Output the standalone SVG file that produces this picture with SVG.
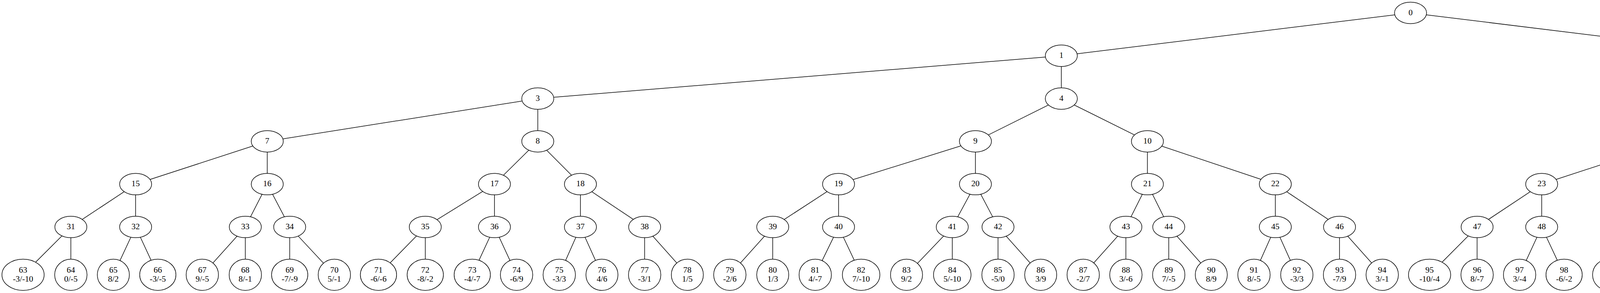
<svg xmlns="http://www.w3.org/2000/svg" width="7200" height="749" viewBox="0 0 7200 749">
<style>
.e line{stroke:#000;stroke-width:1.5}
.n ellipse{fill:#fff;stroke:#000;stroke-width:1.5}
.n text{font-family:"Liberation Serif","Times New Roman",serif;font-size:21.3px;text-anchor:middle;fill:#000}
</style>
<rect width="7200" height="749" fill="#fff"/>
<g id="edges" class="e">
<line x1="3611" y1="33" x2="2717" y2="142.5"/><line x1="3611" y1="33" x2="4505" y2="142.5"/>
<line x1="2717" y1="142.5" x2="1376.7" y2="252"/><line x1="2717" y1="142.5" x2="2717" y2="252"/>
<line x1="4505" y1="142.5" x2="4505" y2="252"/><line x1="4505" y1="142.5" x2="5857.8" y2="252"/>
<line x1="1376.7" y1="252" x2="684.2" y2="361.3"/><line x1="1376.7" y1="252" x2="1376.7" y2="361.3"/>
<line x1="2717" y1="252" x2="2497.1" y2="361.3"/><line x1="2717" y1="252" x2="2937.4" y2="361.3"/>
<line x1="4505" y1="252" x2="4281.9" y2="361.3"/><line x1="4505" y1="252" x2="4728.2" y2="361.3"/>
<line x1="5857.8" y1="252" x2="5857.8" y2="361.3"/><line x1="5857.8" y1="252" x2="6516.7" y2="361.3"/>
<line x1="684.2" y1="361.3" x2="347.2" y2="470.7"/><line x1="684.2" y1="361.3" x2="684.2" y2="470.7"/>
<line x1="1376.7" y1="361.3" x2="1265.8" y2="470.7"/><line x1="1376.7" y1="361.3" x2="1485.9" y2="470.7"/>
<line x1="2497.1" y1="361.3" x2="2146.7" y2="470.7"/><line x1="2497.1" y1="361.3" x2="2497.1" y2="470.7"/>
<line x1="2937.4" y1="361.3" x2="2937.4" y2="470.7"/><line x1="2937.4" y1="361.3" x2="3264.8" y2="470.7"/>
<line x1="4281.9" y1="361.3" x2="3946.7" y2="470.7"/><line x1="4281.9" y1="361.3" x2="4281.9" y2="470.7"/>
<line x1="4728.2" y1="361.3" x2="4728.2" y2="470.7"/><line x1="4728.2" y1="361.3" x2="5071.2" y2="470.7"/>
<line x1="5857.8" y1="361.3" x2="5743.5" y2="470.7"/><line x1="5857.8" y1="361.3" x2="5970.3" y2="470.7"/>
<line x1="6516.7" y1="361.3" x2="6516.7" y2="470.7"/><line x1="6516.7" y1="361.3" x2="6855.2" y2="470.7"/>
<line x1="347.2" y1="470.7" x2="181.4" y2="580.2"/><line x1="347.2" y1="470.7" x2="347.2" y2="580.2"/>
<line x1="684.2" y1="470.7" x2="628" y2="580.2"/><line x1="684.2" y1="470.7" x2="741.6" y2="580.2"/>
<line x1="1265.8" y1="470.7" x2="1088.7" y2="580.2"/><line x1="1265.8" y1="470.7" x2="1265.8" y2="580.2"/>
<line x1="1485.9" y1="470.7" x2="1485.9" y2="580.2"/><line x1="1485.9" y1="470.7" x2="1650.3" y2="580.2"/>
<line x1="2146.7" y1="470.7" x2="1978.2" y2="580.2"/><line x1="2146.7" y1="470.7" x2="2146.7" y2="580.2"/>
<line x1="2497.1" y1="470.7" x2="2437.8" y2="580.2"/><line x1="2497.1" y1="470.7" x2="2554.9" y2="580.2"/>
<line x1="2937.4" y1="470.7" x2="2882.3" y2="580.2"/><line x1="2937.4" y1="470.7" x2="2992" y2="580.2"/>
<line x1="3264.8" y1="470.7" x2="3264.8" y2="580.2"/><line x1="3264.8" y1="470.7" x2="3429.2" y2="580.2"/>
<line x1="3946.7" y1="470.7" x2="3781.4" y2="580.2"/><line x1="3946.7" y1="470.7" x2="3946.7" y2="580.2"/>
<line x1="4281.9" y1="470.7" x2="4227.3" y2="580.2"/><line x1="4281.9" y1="470.7" x2="4337" y2="580.2"/>
<line x1="4728.2" y1="470.7" x2="4673.6" y2="580.2"/><line x1="4728.2" y1="470.7" x2="4782.9" y2="580.2"/>
<line x1="5071.2" y1="470.7" x2="5071.2" y2="580.2"/><line x1="5071.2" y1="470.7" x2="5250.3" y2="580.2"/>
<line x1="5743.5" y1="470.7" x2="5578.2" y2="580.2"/><line x1="5743.5" y1="470.7" x2="5743.5" y2="580.2"/>
<line x1="5970.3" y1="470.7" x2="5970.3" y2="580.2"/><line x1="5970.3" y1="470.7" x2="6134.3" y2="580.2"/>
<line x1="6516.7" y1="470.7" x2="6461.7" y2="580.2"/><line x1="6516.7" y1="470.7" x2="6571.4" y2="580.2"/>
<line x1="6855.2" y1="470.7" x2="6855.2" y2="580.2"/><line x1="6855.2" y1="470.7" x2="7036.1" y2="580.2"/>
<line x1="181.4" y1="580.2" x2="59" y2="702.4"/><line x1="181.4" y1="580.2" x2="181.4" y2="702.4"/>
<line x1="347.2" y1="580.2" x2="290.2" y2="702.4"/><line x1="347.2" y1="580.2" x2="404" y2="702.4"/>
<line x1="628" y1="580.2" x2="517.9" y2="702.4"/><line x1="628" y1="580.2" x2="628" y2="702.4"/>
<line x1="741.6" y1="580.2" x2="741.6" y2="702.4"/><line x1="741.6" y1="580.2" x2="855.9" y2="702.4"/>
<line x1="1088.7" y1="580.2" x2="968.9" y2="702.4"/><line x1="1088.7" y1="580.2" x2="1088.7" y2="702.4"/>
<line x1="1265.8" y1="580.2" x2="1209" y2="702.4"/><line x1="1265.8" y1="580.2" x2="1322.4" y2="702.4"/>
<line x1="1485.9" y1="580.2" x2="1431.7" y2="702.4"/><line x1="1485.9" y1="580.2" x2="1541" y2="702.4"/>
<line x1="1650.3" y1="580.2" x2="1650.3" y2="702.4"/><line x1="1650.3" y1="580.2" x2="1759.6" y2="702.4"/>
<line x1="1978.2" y1="580.2" x2="1868.4" y2="702.4"/><line x1="1978.2" y1="580.2" x2="1978.2" y2="702.4"/>
<line x1="2146.7" y1="580.2" x2="2087" y2="702.4"/><line x1="2146.7" y1="580.2" x2="2204.5" y2="702.4"/>
<line x1="2437.8" y1="580.2" x2="2320.7" y2="702.4"/><line x1="2437.8" y1="580.2" x2="2437.8" y2="702.4"/>
<line x1="2554.9" y1="580.2" x2="2554.9" y2="702.4"/><line x1="2554.9" y1="580.2" x2="2664.2" y2="702.4"/>
<line x1="2882.3" y1="580.2" x2="2773" y2="702.4"/><line x1="2882.3" y1="580.2" x2="2882.3" y2="702.4"/>
<line x1="2992" y1="580.2" x2="2992" y2="702.4"/><line x1="2992" y1="580.2" x2="3100.9" y2="702.4"/>
<line x1="3264.8" y1="580.2" x2="3210.2" y2="702.4"/><line x1="3264.8" y1="580.2" x2="3319.9" y2="702.4"/>
<line x1="3429.2" y1="580.2" x2="3429.2" y2="702.4"/><line x1="3429.2" y1="580.2" x2="3538.5" y2="702.4"/>
<line x1="3781.4" y1="580.2" x2="3659.7" y2="702.4"/><line x1="3781.4" y1="580.2" x2="3781.4" y2="702.4"/>
<line x1="3946.7" y1="580.2" x2="3890.2" y2="702.4"/><line x1="3946.7" y1="580.2" x2="4004.1" y2="702.4"/>
<line x1="4227.3" y1="580.2" x2="4118" y2="702.4"/><line x1="4227.3" y1="580.2" x2="4227.3" y2="702.4"/>
<line x1="4337" y1="580.2" x2="4337" y2="702.4"/><line x1="4337" y1="580.2" x2="4450.9" y2="702.4"/>
<line x1="4673.6" y1="580.2" x2="4564.3" y2="702.4"/><line x1="4673.6" y1="580.2" x2="4673.6" y2="702.4"/>
<line x1="4782.9" y1="580.2" x2="4782.9" y2="702.4"/><line x1="4782.9" y1="580.2" x2="4892.2" y2="702.4"/>
<line x1="5071.2" y1="580.2" x2="5008.8" y2="702.4"/><line x1="5071.2" y1="580.2" x2="5133.7" y2="702.4"/>
<line x1="5250.3" y1="580.2" x2="5250.3" y2="702.4"/><line x1="5250.3" y1="580.2" x2="5359.6" y2="702.4"/>
<line x1="5578.2" y1="580.2" x2="5468.9" y2="702.4"/><line x1="5578.2" y1="580.2" x2="5578.2" y2="702.4"/>
<line x1="5743.5" y1="580.2" x2="5687.5" y2="702.4"/><line x1="5743.5" y1="580.2" x2="5801.3" y2="702.4"/>
<line x1="5970.3" y1="580.2" x2="5915.2" y2="702.4"/><line x1="5970.3" y1="580.2" x2="6025" y2="702.4"/>
<line x1="6134.3" y1="580.2" x2="6134.3" y2="702.4"/><line x1="6134.3" y1="580.2" x2="6243.5" y2="702.4"/>
<line x1="6461.7" y1="580.2" x2="6352.4" y2="702.4"/><line x1="6461.7" y1="580.2" x2="6461.7" y2="702.4"/>
<line x1="6571.4" y1="580.2" x2="6571.4" y2="702.4"/><line x1="6571.4" y1="580.2" x2="6680.7" y2="702.4"/>
<line x1="6855.2" y1="580.2" x2="6794.6" y2="702.4"/><line x1="6855.2" y1="580.2" x2="6914.4" y2="702.4"/>
<line x1="7036.1" y1="580.2" x2="7036.1" y2="702.4"/><line x1="7036.1" y1="580.2" x2="7152.7" y2="702.4"/>
</g>
<g id="nodes" class="n">
<g id="n0"><ellipse cx="3611" cy="33" rx="41" ry="27.4"/><text x="3611" y="38.6">0</text></g>
<g id="n1"><ellipse cx="2717" cy="142.5" rx="41" ry="27.4"/><text x="2717" y="148.1">1</text></g>
<g id="n2"><ellipse cx="4505" cy="142.5" rx="41" ry="27.4"/><text x="4505" y="148.1">2</text></g>
<g id="n3"><ellipse cx="1376.7" cy="252" rx="41" ry="27.4"/><text x="1376.7" y="257.6">3</text></g>
<g id="n4"><ellipse cx="2717" cy="252" rx="41" ry="27.4"/><text x="2717" y="257.6">4</text></g>
<g id="n5"><ellipse cx="4505" cy="252" rx="41" ry="27.4"/><text x="4505" y="257.6">5</text></g>
<g id="n6"><ellipse cx="5857.8" cy="252" rx="41" ry="27.4"/><text x="5857.8" y="257.6">6</text></g>
<g id="n7"><ellipse cx="684.2" cy="361.3" rx="41" ry="27.4"/><text x="684.2" y="366.9">7</text></g>
<g id="n8"><ellipse cx="1376.7" cy="361.3" rx="41" ry="27.4"/><text x="1376.7" y="366.9">8</text></g>
<g id="n9"><ellipse cx="2497.1" cy="361.3" rx="41" ry="27.4"/><text x="2497.1" y="366.9">9</text></g>
<g id="n10"><ellipse cx="2937.4" cy="361.3" rx="41" ry="27.4"/><text x="2937.4" y="366.9">10</text></g>
<g id="n11"><ellipse cx="4281.9" cy="361.3" rx="41" ry="27.4"/><text x="4281.9" y="366.9">11</text></g>
<g id="n12"><ellipse cx="4728.2" cy="361.3" rx="41" ry="27.4"/><text x="4728.2" y="366.9">12</text></g>
<g id="n13"><ellipse cx="5857.8" cy="361.3" rx="41" ry="27.4"/><text x="5857.8" y="366.9">13</text></g>
<g id="n14"><ellipse cx="6516.7" cy="361.3" rx="41" ry="27.4"/><text x="6516.7" y="366.9">14</text></g>
<g id="n15"><ellipse cx="347.2" cy="470.7" rx="41" ry="27.4"/><text x="347.2" y="476.3">15</text></g>
<g id="n16"><ellipse cx="684.2" cy="470.7" rx="41" ry="27.4"/><text x="684.2" y="476.3">16</text></g>
<g id="n17"><ellipse cx="1265.8" cy="470.7" rx="41" ry="27.4"/><text x="1265.8" y="476.3">17</text></g>
<g id="n18"><ellipse cx="1485.9" cy="470.7" rx="41" ry="27.4"/><text x="1485.9" y="476.3">18</text></g>
<g id="n19"><ellipse cx="2146.7" cy="470.7" rx="41" ry="27.4"/><text x="2146.7" y="476.3">19</text></g>
<g id="n20"><ellipse cx="2497.1" cy="470.7" rx="41" ry="27.4"/><text x="2497.1" y="476.3">20</text></g>
<g id="n21"><ellipse cx="2937.4" cy="470.7" rx="41" ry="27.4"/><text x="2937.4" y="476.3">21</text></g>
<g id="n22"><ellipse cx="3264.8" cy="470.7" rx="41" ry="27.4"/><text x="3264.8" y="476.3">22</text></g>
<g id="n23"><ellipse cx="3946.7" cy="470.7" rx="41" ry="27.4"/><text x="3946.7" y="476.3">23</text></g>
<g id="n24"><ellipse cx="4281.9" cy="470.7" rx="41" ry="27.4"/><text x="4281.9" y="476.3">24</text></g>
<g id="n25"><ellipse cx="4728.2" cy="470.7" rx="41" ry="27.4"/><text x="4728.2" y="476.3">25</text></g>
<g id="n26"><ellipse cx="5071.2" cy="470.7" rx="41" ry="27.4"/><text x="5071.2" y="476.3">26</text></g>
<g id="n27"><ellipse cx="5743.5" cy="470.7" rx="41" ry="27.4"/><text x="5743.5" y="476.3">27</text></g>
<g id="n28"><ellipse cx="5970.3" cy="470.7" rx="41" ry="27.4"/><text x="5970.3" y="476.3">28</text></g>
<g id="n29"><ellipse cx="6516.7" cy="470.7" rx="41" ry="27.4"/><text x="6516.7" y="476.3">29</text></g>
<g id="n30"><ellipse cx="6855.2" cy="470.7" rx="41" ry="27.4"/><text x="6855.2" y="476.3">30</text></g>
<g id="n31"><ellipse cx="181.4" cy="580.2" rx="41" ry="27.4"/><text x="181.4" y="585.8">31</text></g>
<g id="n32"><ellipse cx="347.2" cy="580.2" rx="41" ry="27.4"/><text x="347.2" y="585.8">32</text></g>
<g id="n33"><ellipse cx="628" cy="580.2" rx="41" ry="27.4"/><text x="628" y="585.8">33</text></g>
<g id="n34"><ellipse cx="741.6" cy="580.2" rx="41" ry="27.4"/><text x="741.6" y="585.8">34</text></g>
<g id="n35"><ellipse cx="1088.7" cy="580.2" rx="41" ry="27.4"/><text x="1088.7" y="585.8">35</text></g>
<g id="n36"><ellipse cx="1265.8" cy="580.2" rx="41" ry="27.4"/><text x="1265.8" y="585.8">36</text></g>
<g id="n37"><ellipse cx="1485.9" cy="580.2" rx="41" ry="27.4"/><text x="1485.9" y="585.8">37</text></g>
<g id="n38"><ellipse cx="1650.3" cy="580.2" rx="41" ry="27.4"/><text x="1650.3" y="585.8">38</text></g>
<g id="n39"><ellipse cx="1978.2" cy="580.2" rx="41" ry="27.4"/><text x="1978.2" y="585.8">39</text></g>
<g id="n40"><ellipse cx="2146.7" cy="580.2" rx="41" ry="27.4"/><text x="2146.7" y="585.8">40</text></g>
<g id="n41"><ellipse cx="2437.8" cy="580.2" rx="41" ry="27.4"/><text x="2437.8" y="585.8">41</text></g>
<g id="n42"><ellipse cx="2554.9" cy="580.2" rx="41" ry="27.4"/><text x="2554.9" y="585.8">42</text></g>
<g id="n43"><ellipse cx="2882.3" cy="580.2" rx="41" ry="27.4"/><text x="2882.3" y="585.8">43</text></g>
<g id="n44"><ellipse cx="2992" cy="580.2" rx="41" ry="27.4"/><text x="2992" y="585.8">44</text></g>
<g id="n45"><ellipse cx="3264.8" cy="580.2" rx="41" ry="27.4"/><text x="3264.8" y="585.8">45</text></g>
<g id="n46"><ellipse cx="3429.2" cy="580.2" rx="41" ry="27.4"/><text x="3429.2" y="585.8">46</text></g>
<g id="n47"><ellipse cx="3781.4" cy="580.2" rx="41" ry="27.4"/><text x="3781.4" y="585.8">47</text></g>
<g id="n48"><ellipse cx="3946.7" cy="580.2" rx="41" ry="27.4"/><text x="3946.7" y="585.8">48</text></g>
<g id="n49"><ellipse cx="4227.3" cy="580.2" rx="41" ry="27.4"/><text x="4227.3" y="585.8">49</text></g>
<g id="n50"><ellipse cx="4337" cy="580.2" rx="41" ry="27.4"/><text x="4337" y="585.8">50</text></g>
<g id="n51"><ellipse cx="4673.6" cy="580.2" rx="41" ry="27.4"/><text x="4673.6" y="585.8">51</text></g>
<g id="n52"><ellipse cx="4782.9" cy="580.2" rx="41" ry="27.4"/><text x="4782.9" y="585.8">52</text></g>
<g id="n53"><ellipse cx="5071.2" cy="580.2" rx="41" ry="27.4"/><text x="5071.2" y="585.8">53</text></g>
<g id="n54"><ellipse cx="5250.3" cy="580.2" rx="41" ry="27.4"/><text x="5250.3" y="585.8">54</text></g>
<g id="n55"><ellipse cx="5578.2" cy="580.2" rx="41" ry="27.4"/><text x="5578.2" y="585.8">55</text></g>
<g id="n56"><ellipse cx="5743.5" cy="580.2" rx="41" ry="27.4"/><text x="5743.5" y="585.8">56</text></g>
<g id="n57"><ellipse cx="5970.3" cy="580.2" rx="41" ry="27.4"/><text x="5970.3" y="585.8">57</text></g>
<g id="n58"><ellipse cx="6134.3" cy="580.2" rx="41" ry="27.4"/><text x="6134.3" y="585.8">58</text></g>
<g id="n59"><ellipse cx="6461.7" cy="580.2" rx="41" ry="27.4"/><text x="6461.7" y="585.8">59</text></g>
<g id="n60"><ellipse cx="6571.4" cy="580.2" rx="41" ry="27.4"/><text x="6571.4" y="585.8">60</text></g>
<g id="n61"><ellipse cx="6855.2" cy="580.2" rx="41" ry="27.4"/><text x="6855.2" y="585.8">61</text></g>
<g id="n62"><ellipse cx="7036.1" cy="580.2" rx="41" ry="27.4"/><text x="7036.1" y="585.8">62</text></g>
<g id="n63"><ellipse cx="59" cy="702.4" rx="54" ry="40"/><text x="59" y="697">63</text><text x="59" y="719.6">-3/-10</text></g>
<g id="n64"><ellipse cx="181.4" cy="702.4" rx="41.4" ry="40"/><text x="181.4" y="697">64</text><text x="181.4" y="719.6">0/-5</text></g>
<g id="n65"><ellipse cx="290.2" cy="702.4" rx="41" ry="40"/><text x="290.2" y="697">65</text><text x="290.2" y="719.6">8/2</text></g>
<g id="n66"><ellipse cx="404" cy="702.4" rx="46.4" ry="40"/><text x="404" y="697">66</text><text x="404" y="719.6">-3/-5</text></g>
<g id="n67"><ellipse cx="517.9" cy="702.4" rx="41.4" ry="40"/><text x="517.9" y="697">67</text><text x="517.9" y="719.6">9/-5</text></g>
<g id="n68"><ellipse cx="628" cy="702.4" rx="41.4" ry="40"/><text x="628" y="697">68</text><text x="628" y="719.6">8/-1</text></g>
<g id="n69"><ellipse cx="741.6" cy="702.4" rx="46.4" ry="40"/><text x="741.6" y="697">69</text><text x="741.6" y="719.6">-7/-9</text></g>
<g id="n70"><ellipse cx="855.9" cy="702.4" rx="41.4" ry="40"/><text x="855.9" y="697">70</text><text x="855.9" y="719.6">5/-1</text></g>
<g id="n71"><ellipse cx="968.9" cy="702.4" rx="46.4" ry="40"/><text x="968.9" y="697">71</text><text x="968.9" y="719.6">-6/-6</text></g>
<g id="n72"><ellipse cx="1088.7" cy="702.4" rx="46.4" ry="40"/><text x="1088.7" y="697">72</text><text x="1088.7" y="719.6">-8/-2</text></g>
<g id="n73"><ellipse cx="1209" cy="702.4" rx="46.4" ry="40"/><text x="1209" y="697">73</text><text x="1209" y="719.6">-4/-7</text></g>
<g id="n74"><ellipse cx="1322.4" cy="702.4" rx="41.4" ry="40"/><text x="1322.4" y="697">74</text><text x="1322.4" y="719.6">-6/9</text></g>
<g id="n75"><ellipse cx="1431.7" cy="702.4" rx="41.4" ry="40"/><text x="1431.7" y="697">75</text><text x="1431.7" y="719.6">-3/3</text></g>
<g id="n76"><ellipse cx="1541" cy="702.4" rx="41" ry="40"/><text x="1541" y="697">76</text><text x="1541" y="719.6">4/6</text></g>
<g id="n77"><ellipse cx="1650.3" cy="702.4" rx="41.4" ry="40"/><text x="1650.3" y="697">77</text><text x="1650.3" y="719.6">-3/1</text></g>
<g id="n78"><ellipse cx="1759.6" cy="702.4" rx="41" ry="40"/><text x="1759.6" y="697">78</text><text x="1759.6" y="719.6">1/5</text></g>
<g id="n79"><ellipse cx="1868.4" cy="702.4" rx="41.4" ry="40"/><text x="1868.4" y="697">79</text><text x="1868.4" y="719.6">-2/6</text></g>
<g id="n80"><ellipse cx="1978.2" cy="702.4" rx="41" ry="40"/><text x="1978.2" y="697">80</text><text x="1978.2" y="719.6">1/3</text></g>
<g id="n81"><ellipse cx="2087" cy="702.4" rx="41.4" ry="40"/><text x="2087" y="697">81</text><text x="2087" y="719.6">4/-7</text></g>
<g id="n82"><ellipse cx="2204.5" cy="702.4" rx="48" ry="40"/><text x="2204.5" y="697">82</text><text x="2204.5" y="719.6">7/-10</text></g>
<g id="n83"><ellipse cx="2320.7" cy="702.4" rx="41" ry="40"/><text x="2320.7" y="697">83</text><text x="2320.7" y="719.6">9/2</text></g>
<g id="n84"><ellipse cx="2437.8" cy="702.4" rx="48" ry="40"/><text x="2437.8" y="697">84</text><text x="2437.8" y="719.6">5/-10</text></g>
<g id="n85"><ellipse cx="2554.9" cy="702.4" rx="41.4" ry="40"/><text x="2554.9" y="697">85</text><text x="2554.9" y="719.6">-5/0</text></g>
<g id="n86"><ellipse cx="2664.2" cy="702.4" rx="41" ry="40"/><text x="2664.2" y="697">86</text><text x="2664.2" y="719.6">3/9</text></g>
<g id="n87"><ellipse cx="2773" cy="702.4" rx="41.4" ry="40"/><text x="2773" y="697">87</text><text x="2773" y="719.6">-2/7</text></g>
<g id="n88"><ellipse cx="2882.3" cy="702.4" rx="41.4" ry="40"/><text x="2882.3" y="697">88</text><text x="2882.3" y="719.6">3/-6</text></g>
<g id="n89"><ellipse cx="2992" cy="702.4" rx="41.4" ry="40"/><text x="2992" y="697">89</text><text x="2992" y="719.6">7/-5</text></g>
<g id="n90"><ellipse cx="3100.9" cy="702.4" rx="41" ry="40"/><text x="3100.9" y="697">90</text><text x="3100.9" y="719.6">8/9</text></g>
<g id="n91"><ellipse cx="3210.2" cy="702.4" rx="41.4" ry="40"/><text x="3210.2" y="697">91</text><text x="3210.2" y="719.6">8/-5</text></g>
<g id="n92"><ellipse cx="3319.9" cy="702.4" rx="41.4" ry="40"/><text x="3319.9" y="697">92</text><text x="3319.9" y="719.6">-3/3</text></g>
<g id="n93"><ellipse cx="3429.2" cy="702.4" rx="41.4" ry="40"/><text x="3429.2" y="697">93</text><text x="3429.2" y="719.6">-7/9</text></g>
<g id="n94"><ellipse cx="3538.5" cy="702.4" rx="41.4" ry="40"/><text x="3538.5" y="697">94</text><text x="3538.5" y="719.6">3/-1</text></g>
<g id="n95"><ellipse cx="3659.7" cy="702.4" rx="54" ry="40"/><text x="3659.7" y="697">95</text><text x="3659.7" y="719.6">-10/-4</text></g>
<g id="n96"><ellipse cx="3781.4" cy="702.4" rx="41.4" ry="40"/><text x="3781.4" y="697">96</text><text x="3781.4" y="719.6">8/-7</text></g>
<g id="n97"><ellipse cx="3890.2" cy="702.4" rx="41.4" ry="40"/><text x="3890.2" y="697">97</text><text x="3890.2" y="719.6">3/-4</text></g>
<g id="n98"><ellipse cx="4004.1" cy="702.4" rx="46.4" ry="40"/><text x="4004.1" y="697">98</text><text x="4004.1" y="719.6">-6/-2</text></g>
<g id="n99"><ellipse cx="4118" cy="702.4" rx="41" ry="40"/><text x="4118" y="697">99</text><text x="4118" y="719.6">5/5</text></g>
<g id="n100"><ellipse cx="4227.3" cy="702.4" rx="41" ry="40"/><text x="4227.3" y="697">100</text><text x="4227.3" y="719.6">3/6</text></g>
<g id="n101"><ellipse cx="4337" cy="702.4" rx="41" ry="40"/><text x="4337" y="697">101</text><text x="4337" y="719.6">0/1</text></g>
<g id="n102"><ellipse cx="4450.9" cy="702.4" rx="46.4" ry="40"/><text x="4450.9" y="697">102</text><text x="4450.9" y="719.6">-2/-3</text></g>
<g id="n103"><ellipse cx="4564.3" cy="702.4" rx="41.4" ry="40"/><text x="4564.3" y="697">103</text><text x="4564.3" y="719.6">-8/3</text></g>
<g id="n104"><ellipse cx="4673.6" cy="702.4" rx="41" ry="40"/><text x="4673.6" y="697">104</text><text x="4673.6" y="719.6">9/8</text></g>
<g id="n105"><ellipse cx="4782.9" cy="702.4" rx="41.4" ry="40"/><text x="4782.9" y="697">105</text><text x="4782.9" y="719.6">2/-6</text></g>
<g id="n106"><ellipse cx="4892.2" cy="702.4" rx="41.4" ry="40"/><text x="4892.2" y="697">106</text><text x="4892.2" y="719.6">-2/7</text></g>
<g id="n107"><ellipse cx="5008.8" cy="702.4" rx="48" ry="40"/><text x="5008.8" y="697">107</text><text x="5008.8" y="719.6">7/-10</text></g>
<g id="n108"><ellipse cx="5133.7" cy="702.4" rx="48" ry="40"/><text x="5133.7" y="697">108</text><text x="5133.7" y="719.6">4/-10</text></g>
<g id="n109"><ellipse cx="5250.3" cy="702.4" rx="41" ry="40"/><text x="5250.3" y="697">109</text><text x="5250.3" y="719.6">7/7</text></g>
<g id="n110"><ellipse cx="5359.6" cy="702.4" rx="41.4" ry="40"/><text x="5359.6" y="697">110</text><text x="5359.6" y="719.6">-8/6</text></g>
<g id="n111"><ellipse cx="5468.9" cy="702.4" rx="41.4" ry="40"/><text x="5468.9" y="697">111</text><text x="5468.9" y="719.6">6/-1</text></g>
<g id="n112"><ellipse cx="5578.2" cy="702.4" rx="41" ry="40"/><text x="5578.2" y="697">112</text><text x="5578.2" y="719.6">3/4</text></g>
<g id="n113"><ellipse cx="5687.5" cy="702.4" rx="41.4" ry="40"/><text x="5687.5" y="697">113</text><text x="5687.5" y="719.6">6/-9</text></g>
<g id="n114"><ellipse cx="5801.3" cy="702.4" rx="46.4" ry="40"/><text x="5801.3" y="697">114</text><text x="5801.3" y="719.6">-8/-7</text></g>
<g id="n115"><ellipse cx="5915.2" cy="702.4" rx="41.4" ry="40"/><text x="5915.2" y="697">115</text><text x="5915.2" y="719.6">-8/6</text></g>
<g id="n116"><ellipse cx="6025" cy="702.4" rx="41.4" ry="40"/><text x="6025" y="697">116</text><text x="6025" y="719.6">-2/6</text></g>
<g id="n117"><ellipse cx="6134.3" cy="702.4" rx="41.4" ry="40"/><text x="6134.3" y="697">117</text><text x="6134.3" y="719.6">5/-5</text></g>
<g id="n118"><ellipse cx="6243.5" cy="702.4" rx="41.4" ry="40"/><text x="6243.5" y="697">118</text><text x="6243.5" y="719.6">0/-7</text></g>
<g id="n119"><ellipse cx="6352.4" cy="702.4" rx="41" ry="40"/><text x="6352.4" y="697">119</text><text x="6352.4" y="719.6">5/5</text></g>
<g id="n120"><ellipse cx="6461.7" cy="702.4" rx="41.4" ry="40"/><text x="6461.7" y="697">120</text><text x="6461.7" y="719.6">-4/4</text></g>
<g id="n121"><ellipse cx="6571.4" cy="702.4" rx="41.4" ry="40"/><text x="6571.4" y="697">121</text><text x="6571.4" y="719.6">-4/0</text></g>
<g id="n122"><ellipse cx="6680.7" cy="702.4" rx="41" ry="40"/><text x="6680.7" y="697">122</text><text x="6680.7" y="719.6">0/0</text></g>
<g id="n123"><ellipse cx="6794.6" cy="702.4" rx="46.4" ry="40"/><text x="6794.6" y="697">123</text><text x="6794.6" y="719.6">-7/-7</text></g>
<g id="n124"><ellipse cx="6914.4" cy="702.4" rx="46.4" ry="40"/><text x="6914.4" y="697">124</text><text x="6914.4" y="719.6">-5/-8</text></g>
<g id="n125"><ellipse cx="7036.1" cy="702.4" rx="48" ry="40"/><text x="7036.1" y="697">125</text><text x="7036.1" y="719.6">6/-10</text></g>
<g id="n126"><ellipse cx="7152.7" cy="702.4" rx="41" ry="40"/><text x="7152.7" y="697">126</text><text x="7152.7" y="719.6">4/2</text></g>
</g>
</svg>
